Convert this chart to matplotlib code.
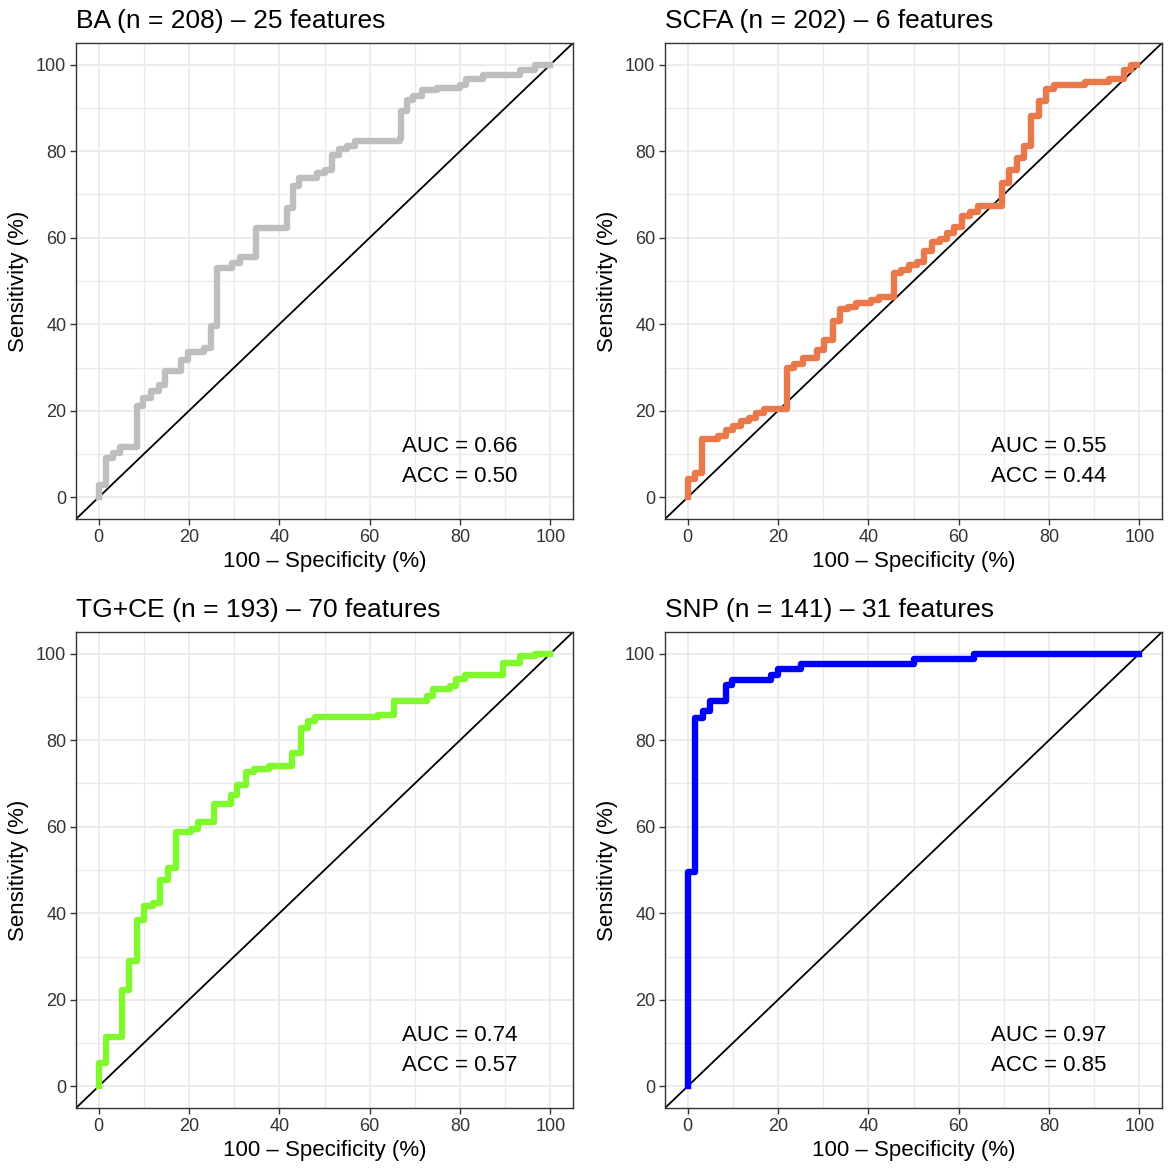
import matplotlib
matplotlib.use("Agg")
import matplotlib.pyplot as plt
import numpy as np

plt.rcParams['font.family'] = ['Liberation Sans', 'DejaVu Sans']

# step corners of each ROC curve: x = 100 - specificity, y = sensitivity
ba_x = [0, 0, 1.7, 3.2, 4.8, 8.4, 9.8, 11.6, 13.4, 14.8, 18.2, 19.8, 23.4, 24.8,
        26.3, 29.6, 31.4, 34.8, 41.7, 43.0, 44.3, 48.3, 50.2, 51.7, 53.3, 55.0,
        56.8, 66.7, 66.9, 68.2, 69.6, 71.5, 74.8, 79.9, 81.4, 85.0, 93.2, 96.5, 100]
ba_y = [0, 2.9, 9.1, 10.2, 11.6, 21.0, 23.0, 24.5, 26.0, 29.1, 31.8, 33.7, 34.5, 39.5,
        53.0, 54.2, 55.5, 62.2, 66.9, 71.9, 73.8, 75.0, 75.7, 79.2, 80.5, 81.3,
        82.3, 83.0, 89.2, 91.9, 92.7, 94.1, 94.6, 95.4, 96.7, 97.7, 98.8, 100, 100]

scfa_x = [0, 0, 1.6, 3.2, 6.8, 8.4, 10.1, 11.9, 13.5, 15.2, 17.0, 22.0, 23.6, 25.5,
          28.6, 30.2, 32.1, 33.8, 35.4, 37.2, 40.5, 42.4, 45.7, 47.3, 49.0, 50.8,
          52.4, 54.1, 55.8, 57.4, 59.0, 60.7, 62.6, 64.2, 69.5, 71.2, 72.8, 74.5,
          76.1, 77.8, 79.4, 81.1, 87.9, 93.2, 96.5, 98.2, 99.5]
scfa_y = [0, 4.2, 5.6, 13.6, 14.1, 15.6, 16.4, 17.7, 18.3, 19.6, 20.4, 30.0, 30.8, 32.2,
          34.1, 36.4, 40.7, 43.5, 44.1, 44.9, 45.5, 46.2, 51.8, 52.5, 53.8, 54.5,
          56.9, 58.9, 59.6, 61.1, 62.4, 65.1, 65.9, 67.3, 72.6, 75.7, 78.4, 81.1,
          88.2, 91.7, 94.4, 95.2, 95.9, 96.7, 98.7, 100, 100]

tgce_x = [0, 0, 1.7, 5.1, 6.8, 8.4, 10.1, 12.0, 13.7, 15.3, 17.1, 20.4, 22.1, 25.6,
          29.2, 30.7, 32.6, 34.4, 37.7, 42.8, 44.7, 46.3, 48.0, 61.9, 65.4, 72.6,
          74.1, 77.7, 79.2, 81.0, 89.5, 93.2, 96.5, 100]
tgce_y = [0, 5.4, 11.4, 22.3, 28.9, 38.5, 41.6, 42.4, 47.6, 50.5, 58.7, 59.5, 61.0, 65.3,
          67.4, 69.7, 72.6, 73.3, 74.1, 77.0, 82.8, 84.4, 85.3, 85.9, 89.0, 90.3,
          91.8, 92.6, 94.1, 95.1, 97.8, 99.4, 100, 100]

snp_x = [0, 0, 1.6, 3.5, 4.9, 8.4, 9.9, 18.4, 20.0, 25.0, 50.1, 63.3, 100]
snp_y = [0, 49.5, 85.1, 86.7, 89.1, 92.7, 93.8, 95.1, 96.5, 97.6, 98.8, 100, 100]

titles = ["BA (n = 208) \u2013 25 features", "SCFA (n = 202) \u2013 6 features",
          "TG+CE (n = 193) \u2013 70 features", "SNP (n = 141) \u2013 31 features"]
auc = [0.66, 0.55, 0.74, 0.97]
acc = [0.50, 0.44, 0.57, 0.85]
colors = ["#BEBEBE", "#E9794A", "#80F82E", "#0000FF"]
curves = [(ba_x, ba_y), (scfa_x, scfa_y), (tgce_x, tgce_y), (snp_x, snp_y)]

fig = plt.figure(figsize=(11.7, 11.7), dpi=100)
fig.patch.set_facecolor("white")

lefts = [76 / 1170, 665 / 1170, 76 / 1170, 665 / 1170]
bottoms = [1 - 519 / 1170, 1 - 519 / 1170, 1 - 1108 / 1170, 1 - 1108 / 1170]
w = 497 / 1170
h = 476 / 1170

for i in range(4):
    ax = fig.add_axes([lefts[i], bottoms[i], w, h])
    ax.set_xlim(-5, 105)
    ax.set_ylim(-5, 105)
    ax.set_xticks(np.arange(0, 101, 20))
    ax.set_yticks(np.arange(0, 101, 20))
    ax.set_xticks(np.arange(10, 100, 20), minor=True)
    ax.set_yticks(np.arange(10, 100, 20), minor=True)
    ax.grid(which="major", color="#EBEBEB", lw=1.3)
    ax.grid(which="minor", color="#EBEBEB", lw=1.0)
    ax.set_axisbelow(True)
    ax.tick_params(which="minor", length=0)
    ax.tick_params(which="major", length=4, width=1, color="#333333",
                   labelsize=13, labelcolor="#333333", pad=3)
    for s in ax.spines.values():
        s.set_color("#333333")
        s.set_linewidth(1.0)

    ax.plot([-5, 105], [-5, 105], color="black", lw=1.3, zorder=2)
    cx, cy = curves[i]
    ax.step(cx, cy, where="post", color=colors[i], lw=4.6, zorder=3)

    ax.text(80, 11.7, "AUC = %.2f" % auc[i], ha="center", va="center", fontsize=16)
    ax.text(80, 4.8, "ACC = %.2f" % acc[i], ha="center", va="center", fontsize=16)

    ax.set_title(titles[i], loc="left", fontsize=19, pad=11)
    ax.set_xlabel("100 \u2013 Specificity (%)", fontsize=16, labelpad=4)
    ax.set_ylabel("Sensitivity (%)", fontsize=16, labelpad=5)

fig.savefig("out.png", dpi=100, facecolor="white")
